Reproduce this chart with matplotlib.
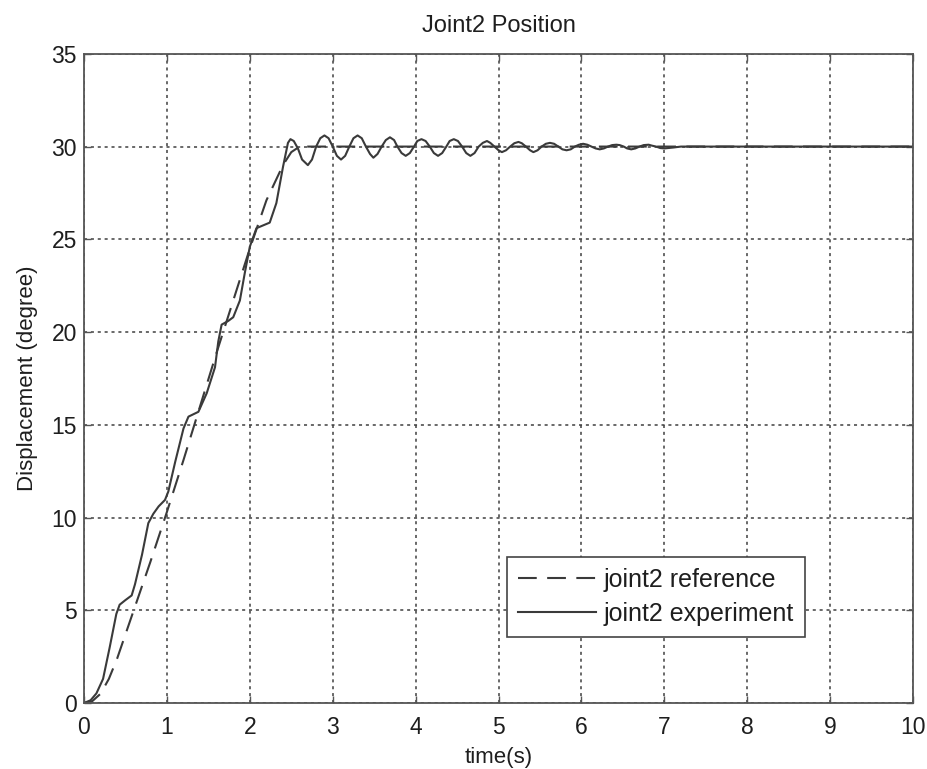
import matplotlib
matplotlib.use("Agg")
import matplotlib.pyplot as plt
import numpy as np

plt.rcParams['font.family'] = ['Liberation Sans', 'DejaVu Sans']

# joint2 reference trajectory (degree)
t_ref = [0.0, 0.1, 0.2, 0.3, 0.4, 0.5, 0.6, 0.8, 1.0, 1.2, 1.4, 1.6, 1.8,
         2.0, 2.2, 2.4, 2.5, 2.6, 10.0]
y_ref = [0.0, 0.1, 0.5, 1.3, 2.4, 3.7, 5.0, 7.6, 10.3, 13.1, 16.0, 18.9, 21.7,
         24.5, 27.1, 29.0, 29.7, 30.0, 30.0]

# joint2 measured response (degree): ramp part
t_exp_ramp = [0.0, 0.08, 0.15, 0.23, 0.31, 0.39, 0.43, 0.5, 0.575, 0.615, 0.7,
              0.776, 0.836, 0.9, 0.977, 1.017, 1.1, 1.2, 1.26, 1.38, 1.48, 1.58,
              1.62, 1.66, 1.74, 1.8, 1.88, 1.94, 2.0, 2.08, 2.16, 2.24, 2.32,
              2.4, 2.46, 2.49, 2.53, 2.58, 2.63]
y_exp_ramp = [0.0, 0.15, 0.52, 1.3, 3.0, 4.8, 5.3, 5.55, 5.8, 6.4, 8.0,
              9.7, 10.2, 10.6, 10.95, 11.4, 13.0, 14.8, 15.44, 15.7, 16.7, 18.1,
              19.5, 20.4, 20.6, 20.8, 21.7, 23.2, 24.6, 25.6, 25.75, 25.9, 26.95,
              28.9, 30.2, 30.4, 30.3, 29.9, 29.3]

# joint2 measured response (degree): settling part
t_exp_settle = [2.70, 2.75, 2.80, 2.85, 2.90, 2.95, 3.00, 3.05, 3.10, 3.15, 3.20,
                3.25, 3.30, 3.35, 3.40, 3.45, 3.49, 3.54, 3.59, 3.64, 3.69, 3.74,
                3.78, 3.83, 3.88, 3.93, 3.98, 4.02, 4.07, 4.12, 4.17, 4.22, 4.27,
                4.32, 4.37, 4.41, 4.46, 4.51, 4.56, 4.61, 4.66, 4.71, 4.76, 4.81,
                4.86, 4.90, 4.95, 5.00, 5.04, 5.09, 5.14, 5.19, 5.24, 5.28, 5.33,
                5.38, 5.42, 5.47, 5.52, 5.57, 5.62, 5.67, 5.72, 5.77, 5.82, 5.87,
                5.92, 5.97, 6.02, 6.07, 6.12, 6.17, 6.22, 6.27, 6.32, 6.37, 6.42,
                6.46, 6.51, 6.55, 6.60, 6.65, 6.70, 6.75, 6.81, 6.85, 6.90, 6.95,
                7.00, 7.05, 7.11, 7.20, 10.0]
y_exp_settle = [29.0, 29.3, 30.0, 30.45, 30.6, 30.45, 30.0, 29.5, 29.3, 29.5, 30.0,
                30.45, 30.6, 30.45, 30.0, 29.6, 29.4, 29.6, 30.0, 30.35, 30.5, 30.35,
                30.0, 29.65, 29.5, 29.65, 30.0, 30.3, 30.4, 30.3, 30.0, 29.65, 29.5,
                29.65, 30.0, 30.3, 30.4, 30.3, 30.0, 29.65, 29.5, 29.65, 30.0, 30.2,
                30.3, 30.2, 30.0, 29.8, 29.7, 29.8, 30.0, 30.18, 30.25, 30.18, 30.0,
                29.8, 29.7, 29.8, 30.0, 30.15, 30.2, 30.15, 30.0, 29.85, 29.8, 29.85,
                30.0, 30.1, 30.15, 30.1, 30.0, 29.9, 29.85, 29.9, 30.0, 30.08, 30.1,
                30.08, 30.0, 29.9, 29.85, 29.9, 30.0, 30.08, 30.1, 30.05, 30.0, 29.92,
                29.9, 29.92, 29.95, 30.0, 30.0]

t_exp = t_exp_ramp + t_exp_settle
y_exp = y_exp_ramp + y_exp_settle

x_ticks = np.arange(0, 11, 1)
y_ticks = np.arange(0, 36, 5)

line_col = '#3a3a3a'
text_col = '#1e1e1e'

fig = plt.figure(figsize=(9.28, 7.69), dpi=100)
ax = fig.add_axes([0.0905, 0.0858, 0.8935, 0.8442])

ax.plot(t_ref, y_ref, color=line_col, linewidth=1.5, dashes=(9, 5),
        label='joint2 reference')
ax.plot(t_exp, y_exp, color=line_col, linewidth=1.5, label='joint2 experiment')

ax.set_xlim(0, 10)
ax.set_ylim(0, 35)
ax.set_xticks(x_ticks)
ax.set_yticks(y_ticks)

ax.grid(True, color='#404040', linestyle=(0, (2, 2.5)), linewidth=1.1)
ax.set_axisbelow(True)

for s in ax.spines.values():
    s.set_color('#555555')
    s.set_linewidth(1.3)

ax.tick_params(direction='in', length=5, width=1, colors='#555555',
               labelcolor=text_col, labelsize=16.5, top=True, right=True)
ax.tick_params(axis='x', pad=9)
ax.tick_params(axis='y', pad=5)

ax.set_xlabel('time(s)', fontsize=16, color=text_col, labelpad=6)
ax.set_ylabel('Displacement (degree)', fontsize=16, color=text_col, labelpad=10)
ax.set_title('Joint2 Position', fontsize=17, color=text_col, pad=16)

leg = ax.legend(loc='lower left', bbox_to_anchor=(0.51, 0.101), borderaxespad=0,
                fontsize=18, handlelength=3.1, handletextpad=0.3,
                labelspacing=0.4, borderpad=0.45, fancybox=False,
                framealpha=1, edgecolor='#444444')
leg.get_frame().set_linewidth(1.2)
for txt in leg.get_texts():
    txt.set_color(text_col)

fig.savefig('out.png', dpi=100)
